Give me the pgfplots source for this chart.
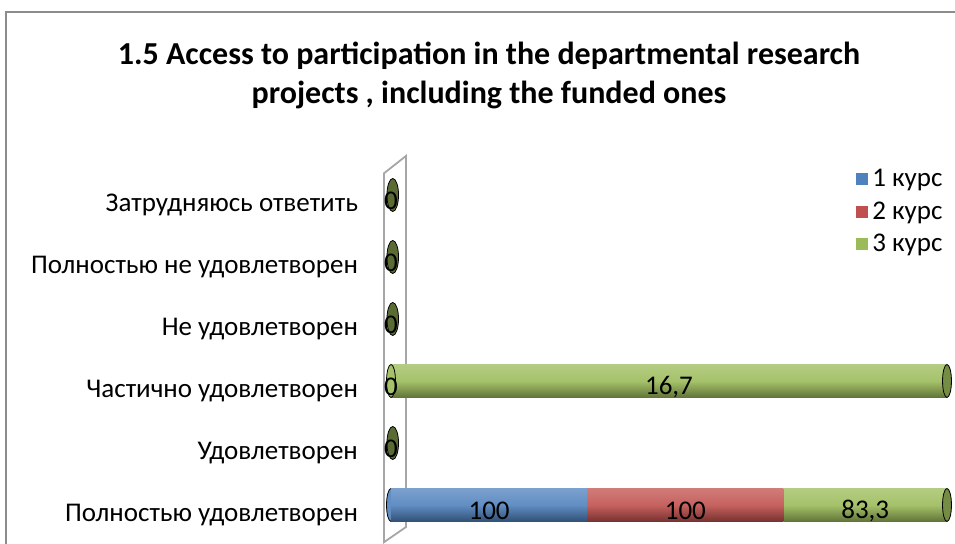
\documentclass[border=0pt]{standalone}
\usepackage{fontspec}
\setmainfont{Carlito}
\usepackage{pgfplots}
\usepackage{pgfplotstable}
\pgfplotsset{compat=1.18}

\definecolor{c1}{HTML}{4F81BD}
\definecolor{c2}{HTML}{C0504D}
\definecolor{c3}{HTML}{9BBB59}
\definecolor{frame}{HTML}{8C8C8C}
\definecolor{wall}{HTML}{A6A6A6}

% data labels (raw values); idx 0 = bottom category
\pgfplotstableread{
x     y lab
17.65 0 100
52.94 0 100
85.29 0 83,3
0     1 0
0     2 0
50    2 16,7
0     3 0
0     4 0
0     5 0
}\labels

\pgfplotsset{
  base/.style={
    scale only axis, width=278pt, height=201.5pt,
    xmin=0, xmax=100, ymin=-0.7, ymax=5.8,
    clip=false, at={(195.5pt,-274.2pt)}, anchor=south west,
  },
  cyl/.style={draw=none, top color=#1!75!white, bottom color=#1!62!black, middle color=#1!90!white},
}

\begin{document}
\begin{tikzpicture}
\useasboundingbox (0,0) rectangle (477.5pt,-272pt);
\clip (0,0) rectangle (477.5pt,-272pt);

% chart frame
\draw[frame, line width=0.9pt] (3pt,-290pt) -- (3pt,-6pt) -- (490pt,-6pt);

% title
\node[font=\fontsize{16}{19.5}\selectfont\bfseries, align=center] at (244.5pt,-37.5pt)
  {1.5 Access to participation in the departmental research\\projects , including the funded ones};

% back wall, left caps, row "Частично удовлетворен" (3 курс = 100 % of the row)
\begin{axis}[base, hide axis, xbar, bar width=16.5pt]
\draw[wall, line width=0.9pt] (axis cs:-1.26,-0.60) -- (axis cs:-1.26,5.35)
  -- (axis cs:2.7,5.63) -- (axis cs:2.7,-0.355) -- cycle;
\addplot[only marks, mark=*, mark size=8.25pt,
  mark options={xscale=0.27, draw=none, fill=c1!90!white}] coordinates {(0,0)};
\addplot[only marks, mark=*, mark size=8.25pt,
  mark options={xscale=0.27, draw=none, fill=c3!90!white}] coordinates {(0,2)};
\addplot[cyl=c3] coordinates {(100,2)};
\end{axis}

% row "Полностью удовлетворен": 100, 100, 83,3 as shares of the row total
\begin{axis}[base,
  xbar stacked, bar width=16.5pt,
  axis line style={draw=none}, major tick length=0pt,
  xtick=\empty,
  ytick={0,1,2,3,4,5},
  yticklabels={Полностью удовлетворен, Удовлетворен, Частично удовлетворен,
    Не удовлетворен, Полностью не удовлетворен, Затрудняюсь ответить},
  yticklabel style={font=\fontsize{13.5}{16}\selectfont, anchor=east, xshift=-13pt, yshift=-5pt},
]
\addplot[cyl=c1] coordinates {(35.29,0)};
\addplot[cyl=c2] coordinates {(35.29,0)};
\addplot[cyl=c3] coordinates {(29.41,0)};
\end{axis}

% end caps, zero discs, labels, legend
\begin{axis}[base, hide axis,
  legend style={at={(0.8255,0.962)}, anchor=north west, draw=none, fill=none,
    font=\fontsize{13.5}{16}\selectfont, row sep=2pt},
  legend cell align=left,
  legend image code/.code={\fill[#1] (0pt,-3pt) rectangle (6pt,3pt);},
]
\addlegendimage{fill=c1, draw=none}
\addlegendentry{1 курс}
\addlegendimage{fill=c2, draw=none}
\addlegendentry{2 курс}
\addlegendimage{fill=c3, draw=none}
\addlegendentry{3 курс}
\addplot[only marks, mark=*, mark size=8.25pt,
  mark options={xscale=0.27, draw=none, fill=c3!75!black}, forget plot]
  coordinates {(100,0) (100,2)};
\addplot[only marks, mark=*, mark size=8.25pt,
  mark options={xscale=0.35, xshift=2.5pt, draw=none, fill=c3!58!black}, forget plot]
  coordinates {(0,1) (0,3) (0,4) (0,5)};
\addplot[draw=none, mark=none, forget plot, nodes near coords, point meta=explicit symbolic,
  nodes near coords align=center,
  every node near coord/.append style={font=\fontsize{13.5}{16}\selectfont, anchor=center, yshift=-3pt}]
  table[x=x, y=y, meta=lab] {\labels};
\end{axis}
\end{tikzpicture}
\end{document}
